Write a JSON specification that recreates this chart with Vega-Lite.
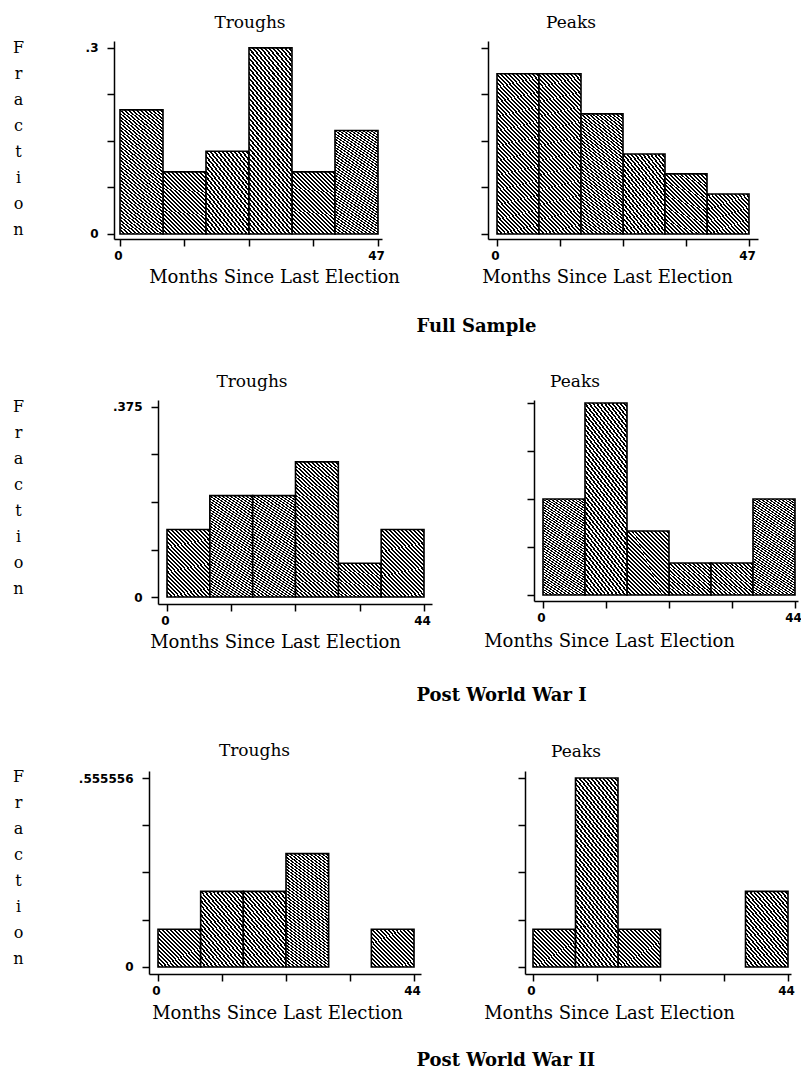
{
"$schema": "https://vega.github.io/schema/vega-lite/v6.json",
"padding": {"left": 12, "top": 14, "right": 0, "bottom": 0},
"background": "white",
"params": [
{"name": "gA", "value": {"gradient": "linear", "x1": 0, "y1": 1, "x2": 0.769, "y2": -0.154, "stops": [
{"offset":0,"color":"#000"},{"offset":0.0185,"color":"#000"},{"offset":0.0185,"color":"#fff"},{"offset":0.037,"color":"#fff"},
{"offset":0.037,"color":"#000"},{"offset":0.0556,"color":"#000"},{"offset":0.0556,"color":"#fff"},{"offset":0.0741,"color":"#fff"},
{"offset":0.0741,"color":"#000"},{"offset":0.0926,"color":"#000"},{"offset":0.0926,"color":"#fff"},{"offset":0.1111,"color":"#fff"},
{"offset":0.1111,"color":"#000"},{"offset":0.1296,"color":"#000"},{"offset":0.1296,"color":"#fff"},{"offset":0.1481,"color":"#fff"},
{"offset":0.1481,"color":"#000"},{"offset":0.1667,"color":"#000"},{"offset":0.1667,"color":"#fff"},{"offset":0.1852,"color":"#fff"},
{"offset":0.1852,"color":"#000"},{"offset":0.2037,"color":"#000"},{"offset":0.2037,"color":"#fff"},{"offset":0.2222,"color":"#fff"},
{"offset":0.2222,"color":"#000"},{"offset":0.2407,"color":"#000"},{"offset":0.2407,"color":"#fff"},{"offset":0.2593,"color":"#fff"},
{"offset":0.2593,"color":"#000"},{"offset":0.2778,"color":"#000"},{"offset":0.2778,"color":"#fff"},{"offset":0.2963,"color":"#fff"},
{"offset":0.2963,"color":"#000"},{"offset":0.3148,"color":"#000"},{"offset":0.3148,"color":"#fff"},{"offset":0.3333,"color":"#fff"},
{"offset":0.3333,"color":"#000"},{"offset":0.3519,"color":"#000"},{"offset":0.3519,"color":"#fff"},{"offset":0.3704,"color":"#fff"},
{"offset":0.3704,"color":"#000"},{"offset":0.3889,"color":"#000"},{"offset":0.3889,"color":"#fff"},{"offset":0.4074,"color":"#fff"},
{"offset":0.4074,"color":"#000"},{"offset":0.4259,"color":"#000"},{"offset":0.4259,"color":"#fff"},{"offset":0.4444,"color":"#fff"},
{"offset":0.4444,"color":"#000"},{"offset":0.463,"color":"#000"},{"offset":0.463,"color":"#fff"},{"offset":0.4815,"color":"#fff"},
{"offset":0.4815,"color":"#000"},{"offset":0.5,"color":"#000"},{"offset":0.5,"color":"#fff"},{"offset":0.5185,"color":"#fff"},
{"offset":0.5185,"color":"#000"},{"offset":0.537,"color":"#000"},{"offset":0.537,"color":"#fff"},{"offset":0.5556,"color":"#fff"},
{"offset":0.5556,"color":"#000"},{"offset":0.5741,"color":"#000"},{"offset":0.5741,"color":"#fff"},{"offset":0.5926,"color":"#fff"},
{"offset":0.5926,"color":"#000"},{"offset":0.6111,"color":"#000"},{"offset":0.6111,"color":"#fff"},{"offset":0.6296,"color":"#fff"},
{"offset":0.6296,"color":"#000"},{"offset":0.6481,"color":"#000"},{"offset":0.6481,"color":"#fff"},{"offset":0.6667,"color":"#fff"},
{"offset":0.6667,"color":"#000"},{"offset":0.6852,"color":"#000"},{"offset":0.6852,"color":"#fff"},{"offset":0.7037,"color":"#fff"},
{"offset":0.7037,"color":"#000"},{"offset":0.7222,"color":"#000"},{"offset":0.7222,"color":"#fff"},{"offset":0.7407,"color":"#fff"},
{"offset":0.7407,"color":"#000"},{"offset":0.7593,"color":"#000"},{"offset":0.7593,"color":"#fff"},{"offset":0.7778,"color":"#fff"},
{"offset":0.7778,"color":"#000"},{"offset":0.7963,"color":"#000"},{"offset":0.7963,"color":"#fff"},{"offset":0.8148,"color":"#fff"},
{"offset":0.8148,"color":"#000"},{"offset":0.8333,"color":"#000"},{"offset":0.8333,"color":"#fff"},{"offset":0.8519,"color":"#fff"},
{"offset":0.8519,"color":"#000"},{"offset":0.8704,"color":"#000"},{"offset":0.8704,"color":"#fff"},{"offset":0.8889,"color":"#fff"},
{"offset":0.8889,"color":"#000"},{"offset":0.9074,"color":"#000"},{"offset":0.9074,"color":"#fff"},{"offset":0.9259,"color":"#fff"},
{"offset":0.9259,"color":"#000"},{"offset":0.9444,"color":"#000"},{"offset":0.9444,"color":"#fff"},{"offset":0.963,"color":"#fff"},
{"offset":0.963,"color":"#000"},{"offset":0.9815,"color":"#000"},{"offset":0.9815,"color":"#fff"},{"offset":1,"color":"#fff"}
]}},
{"name": "gB", "value": {"gradient": "linear", "x1": 0, "y1": 1, "x2": 0.34, "y2": -0.189, "stops": [
{"offset":0,"color":"#000"},{"offset":0.0104,"color":"#000"},{"offset":0.0104,"color":"#fff"},{"offset":0.0208,"color":"#fff"},
{"offset":0.0208,"color":"#000"},{"offset":0.0313,"color":"#000"},{"offset":0.0313,"color":"#fff"},{"offset":0.0417,"color":"#fff"},
{"offset":0.0417,"color":"#000"},{"offset":0.0521,"color":"#000"},{"offset":0.0521,"color":"#fff"},{"offset":0.0625,"color":"#fff"},
{"offset":0.0625,"color":"#000"},{"offset":0.0729,"color":"#000"},{"offset":0.0729,"color":"#fff"},{"offset":0.0833,"color":"#fff"},
{"offset":0.0833,"color":"#000"},{"offset":0.0938,"color":"#000"},{"offset":0.0938,"color":"#fff"},{"offset":0.1042,"color":"#fff"},
{"offset":0.1042,"color":"#000"},{"offset":0.1146,"color":"#000"},{"offset":0.1146,"color":"#fff"},{"offset":0.125,"color":"#fff"},
{"offset":0.125,"color":"#000"},{"offset":0.1354,"color":"#000"},{"offset":0.1354,"color":"#fff"},{"offset":0.1458,"color":"#fff"},
{"offset":0.1458,"color":"#000"},{"offset":0.1563,"color":"#000"},{"offset":0.1563,"color":"#fff"},{"offset":0.1667,"color":"#fff"},
{"offset":0.1667,"color":"#000"},{"offset":0.1771,"color":"#000"},{"offset":0.1771,"color":"#fff"},{"offset":0.1875,"color":"#fff"},
{"offset":0.1875,"color":"#000"},{"offset":0.1979,"color":"#000"},{"offset":0.1979,"color":"#fff"},{"offset":0.2083,"color":"#fff"},
{"offset":0.2083,"color":"#000"},{"offset":0.2188,"color":"#000"},{"offset":0.2188,"color":"#fff"},{"offset":0.2292,"color":"#fff"},
{"offset":0.2292,"color":"#000"},{"offset":0.2396,"color":"#000"},{"offset":0.2396,"color":"#fff"},{"offset":0.25,"color":"#fff"},
{"offset":0.25,"color":"#000"},{"offset":0.2604,"color":"#000"},{"offset":0.2604,"color":"#fff"},{"offset":0.2708,"color":"#fff"},
{"offset":0.2708,"color":"#000"},{"offset":0.2813,"color":"#000"},{"offset":0.2813,"color":"#fff"},{"offset":0.2917,"color":"#fff"},
{"offset":0.2917,"color":"#000"},{"offset":0.3021,"color":"#000"},{"offset":0.3021,"color":"#fff"},{"offset":0.3125,"color":"#fff"},
{"offset":0.3125,"color":"#000"},{"offset":0.3229,"color":"#000"},{"offset":0.3229,"color":"#fff"},{"offset":0.3333,"color":"#fff"},
{"offset":0.3333,"color":"#000"},{"offset":0.3438,"color":"#000"},{"offset":0.3438,"color":"#fff"},{"offset":0.3542,"color":"#fff"},
{"offset":0.3542,"color":"#000"},{"offset":0.3646,"color":"#000"},{"offset":0.3646,"color":"#fff"},{"offset":0.375,"color":"#fff"},
{"offset":0.375,"color":"#000"},{"offset":0.3854,"color":"#000"},{"offset":0.3854,"color":"#fff"},{"offset":0.3958,"color":"#fff"},
{"offset":0.3958,"color":"#000"},{"offset":0.4063,"color":"#000"},{"offset":0.4063,"color":"#fff"},{"offset":0.4167,"color":"#fff"},
{"offset":0.4167,"color":"#000"},{"offset":0.4271,"color":"#000"},{"offset":0.4271,"color":"#fff"},{"offset":0.4375,"color":"#fff"},
{"offset":0.4375,"color":"#000"},{"offset":0.4479,"color":"#000"},{"offset":0.4479,"color":"#fff"},{"offset":0.4583,"color":"#fff"},
{"offset":0.4583,"color":"#000"},{"offset":0.4688,"color":"#000"},{"offset":0.4688,"color":"#fff"},{"offset":0.4792,"color":"#fff"},
{"offset":0.4792,"color":"#000"},{"offset":0.4896,"color":"#000"},{"offset":0.4896,"color":"#fff"},{"offset":0.5,"color":"#fff"},
{"offset":0.5,"color":"#000"},{"offset":0.5104,"color":"#000"},{"offset":0.5104,"color":"#fff"},{"offset":0.5208,"color":"#fff"},
{"offset":0.5208,"color":"#000"},{"offset":0.5313,"color":"#000"},{"offset":0.5313,"color":"#fff"},{"offset":0.5417,"color":"#fff"},
{"offset":0.5417,"color":"#000"},{"offset":0.5521,"color":"#000"},{"offset":0.5521,"color":"#fff"},{"offset":0.5625,"color":"#fff"},
{"offset":0.5625,"color":"#000"},{"offset":0.5729,"color":"#000"},{"offset":0.5729,"color":"#fff"},{"offset":0.5833,"color":"#fff"},
{"offset":0.5833,"color":"#000"},{"offset":0.5938,"color":"#000"},{"offset":0.5938,"color":"#fff"},{"offset":0.6042,"color":"#fff"},
{"offset":0.6042,"color":"#000"},{"offset":0.6146,"color":"#000"},{"offset":0.6146,"color":"#fff"},{"offset":0.625,"color":"#fff"},
{"offset":0.625,"color":"#000"},{"offset":0.6354,"color":"#000"},{"offset":0.6354,"color":"#fff"},{"offset":0.6458,"color":"#fff"},
{"offset":0.6458,"color":"#000"},{"offset":0.6563,"color":"#000"},{"offset":0.6563,"color":"#fff"},{"offset":0.6667,"color":"#fff"},
{"offset":0.6667,"color":"#000"},{"offset":0.6771,"color":"#000"},{"offset":0.6771,"color":"#fff"},{"offset":0.6875,"color":"#fff"},
{"offset":0.6875,"color":"#000"},{"offset":0.6979,"color":"#000"},{"offset":0.6979,"color":"#fff"},{"offset":0.7083,"color":"#fff"},
{"offset":0.7083,"color":"#000"},{"offset":0.7188,"color":"#000"},{"offset":0.7188,"color":"#fff"},{"offset":0.7292,"color":"#fff"},
{"offset":0.7292,"color":"#000"},{"offset":0.7396,"color":"#000"},{"offset":0.7396,"color":"#fff"},{"offset":0.75,"color":"#fff"},
{"offset":0.75,"color":"#000"},{"offset":0.7604,"color":"#000"},{"offset":0.7604,"color":"#fff"},{"offset":0.7708,"color":"#fff"},
{"offset":0.7708,"color":"#000"},{"offset":0.7813,"color":"#000"},{"offset":0.7813,"color":"#fff"},{"offset":0.7917,"color":"#fff"},
{"offset":0.7917,"color":"#000"},{"offset":0.8021,"color":"#000"},{"offset":0.8021,"color":"#fff"},{"offset":0.8125,"color":"#fff"},
{"offset":0.8125,"color":"#000"},{"offset":0.8229,"color":"#000"},{"offset":0.8229,"color":"#fff"},{"offset":0.8333,"color":"#fff"},
{"offset":0.8333,"color":"#000"},{"offset":0.8438,"color":"#000"},{"offset":0.8438,"color":"#fff"},{"offset":0.8542,"color":"#fff"},
{"offset":0.8542,"color":"#000"},{"offset":0.8646,"color":"#000"},{"offset":0.8646,"color":"#fff"},{"offset":0.875,"color":"#fff"},
{"offset":0.875,"color":"#000"},{"offset":0.8854,"color":"#000"},{"offset":0.8854,"color":"#fff"},{"offset":0.8958,"color":"#fff"},
{"offset":0.8958,"color":"#000"},{"offset":0.9063,"color":"#000"},{"offset":0.9063,"color":"#fff"},{"offset":0.9167,"color":"#fff"},
{"offset":0.9167,"color":"#000"},{"offset":0.9271,"color":"#000"},{"offset":0.9271,"color":"#fff"},{"offset":0.9375,"color":"#fff"},
{"offset":0.9375,"color":"#000"},{"offset":0.9479,"color":"#000"},{"offset":0.9479,"color":"#fff"},{"offset":0.9583,"color":"#fff"},
{"offset":0.9583,"color":"#000"},{"offset":0.9688,"color":"#000"},{"offset":0.9688,"color":"#fff"},{"offset":0.9792,"color":"#fff"},
{"offset":0.9792,"color":"#000"},{"offset":0.9896,"color":"#000"},{"offset":0.9896,"color":"#fff"},{"offset":1,"color":"#fff"}
]}},
{"name": "gC", "value": {"gradient": "linear", "x1": 0, "y1": 1, "x2": 1.074, "y2": 0.087, "stops": [
{"offset":0,"color":"#000"},{"offset":0.025,"color":"#000"},{"offset":0.025,"color":"#fff"},{"offset":0.05,"color":"#fff"},
{"offset":0.05,"color":"#000"},{"offset":0.075,"color":"#000"},{"offset":0.075,"color":"#fff"},{"offset":0.1,"color":"#fff"},
{"offset":0.1,"color":"#000"},{"offset":0.125,"color":"#000"},{"offset":0.125,"color":"#fff"},{"offset":0.15,"color":"#fff"},
{"offset":0.15,"color":"#000"},{"offset":0.175,"color":"#000"},{"offset":0.175,"color":"#fff"},{"offset":0.2,"color":"#fff"},
{"offset":0.2,"color":"#000"},{"offset":0.225,"color":"#000"},{"offset":0.225,"color":"#fff"},{"offset":0.25,"color":"#fff"},
{"offset":0.25,"color":"#000"},{"offset":0.275,"color":"#000"},{"offset":0.275,"color":"#fff"},{"offset":0.3,"color":"#fff"},
{"offset":0.3,"color":"#000"},{"offset":0.325,"color":"#000"},{"offset":0.325,"color":"#fff"},{"offset":0.35,"color":"#fff"},
{"offset":0.35,"color":"#000"},{"offset":0.375,"color":"#000"},{"offset":0.375,"color":"#fff"},{"offset":0.4,"color":"#fff"},
{"offset":0.4,"color":"#000"},{"offset":0.425,"color":"#000"},{"offset":0.425,"color":"#fff"},{"offset":0.45,"color":"#fff"},
{"offset":0.45,"color":"#000"},{"offset":0.475,"color":"#000"},{"offset":0.475,"color":"#fff"},{"offset":0.5,"color":"#fff"},
{"offset":0.5,"color":"#000"},{"offset":0.525,"color":"#000"},{"offset":0.525,"color":"#fff"},{"offset":0.55,"color":"#fff"},
{"offset":0.55,"color":"#000"},{"offset":0.575,"color":"#000"},{"offset":0.575,"color":"#fff"},{"offset":0.6,"color":"#fff"},
{"offset":0.6,"color":"#000"},{"offset":0.625,"color":"#000"},{"offset":0.625,"color":"#fff"},{"offset":0.65,"color":"#fff"},
{"offset":0.65,"color":"#000"},{"offset":0.675,"color":"#000"},{"offset":0.675,"color":"#fff"},{"offset":0.7,"color":"#fff"},
{"offset":0.7,"color":"#000"},{"offset":0.725,"color":"#000"},{"offset":0.725,"color":"#fff"},{"offset":0.75,"color":"#fff"},
{"offset":0.75,"color":"#000"},{"offset":0.775,"color":"#000"},{"offset":0.775,"color":"#fff"},{"offset":0.8,"color":"#fff"},
{"offset":0.8,"color":"#000"},{"offset":0.825,"color":"#000"},{"offset":0.825,"color":"#fff"},{"offset":0.85,"color":"#fff"},
{"offset":0.85,"color":"#000"},{"offset":0.875,"color":"#000"},{"offset":0.875,"color":"#fff"},{"offset":0.9,"color":"#fff"},
{"offset":0.9,"color":"#000"},{"offset":0.925,"color":"#000"},{"offset":0.925,"color":"#fff"},{"offset":0.95,"color":"#fff"},
{"offset":0.95,"color":"#000"},{"offset":0.975,"color":"#000"},{"offset":0.975,"color":"#fff"},{"offset":1,"color":"#fff"}
]}}
],
"config": {
"view": {"stroke": null},
"font": "DejaVu Serif",
"axis": {"grid": false, "domainColor": "#000", "domainWidth": 1.5, "tickColor": "#000", "tickWidth": 1.5, "tickSize": 7, "labelFont": "DejaVu Sans", "labelFontWeight": "bold", "labelFontSize": 12, "labelColor": "#000", "titleFont": "DejaVu Serif", "titleFontWeight": "normal", "titleFontSize": 18, "titleColor": "#000"},
"axisX": {"labelPadding": 4, "labelOffset": -2},
"axisY": {"labelPadding": 9},
"title": {"font": "DejaVu Serif", "fontSize": 17, "fontWeight": "normal", "color": "#000"},
"bar": {"stroke": "#000", "strokeWidth": 1.6}
},
"datasets": {"hist": [
{"sample": "Full Sample", "panel": "Troughs", "start": 0, "end": 7.8333, "fraction": 0.2},
{"sample": "Full Sample", "panel": "Troughs", "start": 7.8333, "end": 15.6667, "fraction": 0.1},
{"sample": "Full Sample", "panel": "Troughs", "start": 15.6667, "end": 23.5, "fraction": 0.1333},
{"sample": "Full Sample", "panel": "Troughs", "start": 23.5, "end": 31.3333, "fraction": 0.3},
{"sample": "Full Sample", "panel": "Troughs", "start": 31.3333, "end": 39.1667, "fraction": 0.1},
{"sample": "Full Sample", "panel": "Troughs", "start": 39.1667, "end": 47, "fraction": 0.1667},
{"sample": "Full Sample", "panel": "Peaks", "start": 0, "end": 7.8333, "fraction": 0.2581},
{"sample": "Full Sample", "panel": "Peaks", "start": 7.8333, "end": 15.6667, "fraction": 0.2581},
{"sample": "Full Sample", "panel": "Peaks", "start": 15.6667, "end": 23.5, "fraction": 0.1935},
{"sample": "Full Sample", "panel": "Peaks", "start": 23.5, "end": 31.3333, "fraction": 0.129},
{"sample": "Full Sample", "panel": "Peaks", "start": 31.3333, "end": 39.1667, "fraction": 0.0968},
{"sample": "Full Sample", "panel": "Peaks", "start": 39.1667, "end": 47, "fraction": 0.0645},
{"sample": "Post World War I", "panel": "Troughs", "start": 0, "end": 7.3333, "fraction": 0.1333},
{"sample": "Post World War I", "panel": "Troughs", "start": 7.3333, "end": 14.6667, "fraction": 0.2},
{"sample": "Post World War I", "panel": "Troughs", "start": 14.6667, "end": 22, "fraction": 0.2},
{"sample": "Post World War I", "panel": "Troughs", "start": 22, "end": 29.3333, "fraction": 0.2667},
{"sample": "Post World War I", "panel": "Troughs", "start": 29.3333, "end": 36.6667, "fraction": 0.0667},
{"sample": "Post World War I", "panel": "Troughs", "start": 36.6667, "end": 44, "fraction": 0.1333},
{"sample": "Post World War I", "panel": "Peaks", "start": 0, "end": 7.3333, "fraction": 0.1875},
{"sample": "Post World War I", "panel": "Peaks", "start": 7.3333, "end": 14.6667, "fraction": 0.375},
{"sample": "Post World War I", "panel": "Peaks", "start": 14.6667, "end": 22, "fraction": 0.125},
{"sample": "Post World War I", "panel": "Peaks", "start": 22, "end": 29.3333, "fraction": 0.0625},
{"sample": "Post World War I", "panel": "Peaks", "start": 29.3333, "end": 36.6667, "fraction": 0.0625},
{"sample": "Post World War I", "panel": "Peaks", "start": 36.6667, "end": 44, "fraction": 0.1875},
{"sample": "Post World War II", "panel": "Troughs", "start": 0, "end": 7.3333, "fraction": 0.1111},
{"sample": "Post World War II", "panel": "Troughs", "start": 7.3333, "end": 14.6667, "fraction": 0.2222},
{"sample": "Post World War II", "panel": "Troughs", "start": 14.6667, "end": 22, "fraction": 0.2222},
{"sample": "Post World War II", "panel": "Troughs", "start": 22, "end": 29.3333, "fraction": 0.3333},
{"sample": "Post World War II", "panel": "Troughs", "start": 36.6667, "end": 44, "fraction": 0.1111},
{"sample": "Post World War II", "panel": "Peaks", "start": 0, "end": 7.3333, "fraction": 0.1111},
{"sample": "Post World War II", "panel": "Peaks", "start": 7.3333, "end": 14.6667, "fraction": 0.5556},
{"sample": "Post World War II", "panel": "Peaks", "start": 14.6667, "end": 22, "fraction": 0.1111},
{"sample": "Post World War II", "panel": "Peaks", "start": 36.6667, "end": 44, "fraction": 0.2222}
]},
"data": {"name": "hist"},
"columns": 1,
"align": "none",
"spacing": 37,
"concat": [
{
"hconcat": [
{
"width": 268, "height": 198,
"title": {"text": "Troughs", "frame": "group", "anchor": "middle", "dx": 2, "offset": -6, "baseline": "alphabetic"},
"transform": [{"filter": "datum.sample == 'Full Sample' && datum.panel == 'Troughs'"}],
"encoding": {
"x": {"field": "start", "type": "quantitative", "scale": {"domain": [-1.093, 47.729], "nice": false, "zero": false},
 "axis": {"values": [0, 11.75, 23.5, 35.25, 47], "labelExpr": "datum.value == 0 ? '0' : datum.value > 46 ? '47' : ''", "labelFlush": false, "labelOverlap": false, "title": "Months Since Last Election", "titleX": 160, "titleY": 43, "titleAlign": "center", "titleBaseline": "alphabetic"}},
"x2": {"field": "end"},
"y": {"field": "fraction", "type": "quantitative", "scale": {"domain": [-0.0081, 0.311], "nice": false, "zero": false},
 "axis": {"values": [0, 0.075, 0.15, 0.225, 0.3], "labelExpr": "datum.value == 0 ? '0' : datum.value > 0.29 ? '.3' : ''", "labelFlush": false, "labelOverlap": false, "title": ["F","r","a","c","t","i","o","n"], "titleAngle": 0, "titleAlign": "center", "titleBaseline": "top", "titleFontSize": 16, "titleLineHeight": 26, "titleX": -96, "titleY": -2}},
"y2": {"datum": 0}
},
"layer": [
{"transform": [{"filter": "datum.fraction <= 0.0758"}], "mark": {"type": "bar", "fill": {"expr": "gC"}}},
{"transform": [{"filter": "datum.fraction > 0.0758 && datum.fraction <= 0.153"}], "mark": {"type": "bar", "fill": {"expr": "gA"}}},
{"transform": [{"filter": "datum.fraction > 0.153"}], "mark": {"type": "bar", "fill": {"expr": "gB"}}}
]
},
{
"width": 270, "height": 198,
"title": {"text": "Peaks", "frame": "group", "anchor": "middle", "dx": -52, "offset": -4, "baseline": "alphabetic"},
"transform": [{"filter": "datum.sample == 'Full Sample' && datum.panel == 'Peaks'"}],
"encoding": {
"x": {"field": "start", "type": "quantitative", "scale": {"domain": [-1.678, 48.678], "nice": false, "zero": false},
 "axis": {"values": [0, 11.75, 23.5, 35.25, 47], "labelExpr": "datum.value == 0 ? '0' : datum.value > 46 ? '47' : ''", "labelFlush": false, "labelOverlap": false, "title": "Months Since Last Election", "titleX": 119, "titleY": 43, "titleAlign": "center", "titleBaseline": "alphabetic"}},
"x2": {"field": "end"},
"y": {"field": "fraction", "type": "quantitative", "scale": {"domain": [-0.0081, 0.311], "nice": false, "zero": false},
 "axis": {"values": [0, 0.075, 0.15, 0.225, 0.3], "labels": false, "title": null}},
"y2": {"datum": 0}
},
"layer": [
{"transform": [{"filter": "datum.fraction <= 0.0758"}], "mark": {"type": "bar", "fill": {"expr": "gC"}}},
{"transform": [{"filter": "datum.fraction > 0.0758 && datum.fraction <= 0.153"}], "mark": {"type": "bar", "fill": {"expr": "gA"}}},
{"transform": [{"filter": "datum.fraction > 0.153"}], "mark": {"type": "bar", "fill": {"expr": "gB"}}}
]
}
],
"spacing": 106,
"bounds": "flush",
"title": {"text": "Full Sample", "orient": "bottom", "anchor": "start", "frame": "bounds", "dx": 404, "offset": 46, "baseline": "alphabetic", "fontWeight": "bold", "fontSize": 18}
},
{
"hconcat": [
{
"width": 318, "height": 204,
"title": {"text": "Troughs", "frame": "group", "anchor": "middle", "dx": -21, "offset": -6, "baseline": "alphabetic"},
"transform": [{"filter": "datum.sample == 'Post World War I' && datum.panel == 'Troughs'"}],
"encoding": {
"x": {"field": "start", "type": "quantitative", "scale": {"domain": [-1.541, 45.37], "range": [44, 318], "nice": false, "zero": false},
 "axis": {"values": [0, 11, 22, 33, 44], "labelExpr": "datum.value == 0 ? '0' : datum.value > 43 ? '44' : ''", "labelFlush": false, "labelOverlap": false, "title": "Months Since Last Election", "titleX": 161, "titleY": 43, "titleAlign": "center", "titleBaseline": "alphabetic"}},
"x2": {"field": "end"},
"y": {"field": "fraction", "type": "quantitative", "scale": {"domain": [-0.0138, 0.3888], "nice": false, "zero": false},
 "axis": {"offset": -44, "values": [0, 0.09375, 0.1875, 0.28125, 0.375], "labelExpr": "datum.value == 0 ? '0' : datum.value > 0.37 ? '.375' : ''", "labelFlush": false, "labelOverlap": false, "title": ["F","r","a","c","t","i","o","n"], "titleAngle": 0, "titleAlign": "center", "titleBaseline": "top", "titleFontSize": 16, "titleLineHeight": 26, "titleX": -140, "titleY": -2}},
"y2": {"datum": 0}
},
"layer": [
{"transform": [{"filter": "datum.fraction <= 0.093"}], "mark": {"type": "bar", "fill": {"expr": "gC"}}},
{"transform": [{"filter": "datum.fraction > 0.093 && datum.fraction <= 0.187"}], "mark": {"type": "bar", "fill": {"expr": "gA"}}},
{"transform": [{"filter": "datum.fraction > 0.187"}], "mark": {"type": "bar", "fill": {"expr": "gB"}}}
]
},
{
"width": 264, "height": 201,
"title": {"text": "Peaks", "frame": "group", "anchor": "middle", "dx": -91, "offset": -4, "baseline": "alphabetic"},
"transform": [{"filter": "datum.sample == 'Post World War I' && datum.panel == 'Peaks'"}],
"encoding": {
"x": {"field": "start", "type": "quantitative", "scale": {"domain": [-1.571, 44.524], "nice": false, "zero": false},
 "axis": {"values": [0, 11, 22, 33, 44], "labelExpr": "datum.value == 0 ? '0' : datum.value > 43 ? '44' : ''", "labelFlush": false, "labelOverlap": false, "title": "Months Since Last Election", "titleX": 75, "titleY": 45, "titleAlign": "center", "titleBaseline": "alphabetic"}},
"x2": {"field": "end"},
"y": {"field": "fraction", "type": "quantitative", "scale": {"domain": [-0.0117, 0.3809], "nice": false, "zero": false},
 "axis": {"values": [0, 0.09375, 0.1875, 0.28125, 0.375], "labels": false, "title": null}},
"y2": {"datum": 0}
},
"layer": [
{"transform": [{"filter": "datum.fraction <= 0.092"}], "mark": {"type": "bar", "fill": {"expr": "gC"}}},
{"transform": [{"filter": "datum.fraction > 0.092 && datum.fraction <= 0.18"}], "mark": {"type": "bar", "fill": {"expr": "gA"}}},
{"transform": [{"filter": "datum.fraction > 0.18"}], "mark": {"type": "bar", "fill": {"expr": "gB"}}}
]
}
],
"spacing": 102,
"bounds": "flush",
"title": {"text": "Post World War I", "orient": "bottom", "anchor": "start", "frame": "bounds", "dx": 404, "offset": 50, "baseline": "alphabetic", "fontWeight": "bold", "fontSize": 18}
},
{
"hconcat": [
{
"width": 307, "height": 203,
"title": {"text": "Troughs", "frame": "group", "anchor": "middle", "dx": -13, "offset": -5, "baseline": "alphabetic"},
"transform": [{"filter": "datum.sample == 'Post World War II' && datum.panel == 'Troughs'"}],
"encoding": {
"x": {"field": "start", "type": "quantitative", "scale": {"domain": [-1.547, 45.2], "range": [35, 307], "nice": false, "zero": false},
 "axis": {"values": [0, 11, 22, 33, 44], "labelExpr": "datum.value == 0 ? '0' : datum.value > 43 ? '44' : ''", "labelFlush": false, "labelOverlap": false, "title": "Months Since Last Election", "titleX": 163, "titleY": 44, "titleAlign": "center", "titleBaseline": "alphabetic"}},
"x2": {"field": "end"},
"y": {"field": "fraction", "type": "quantitative", "scale": {"domain": [-0.0207, 0.5762], "nice": false, "zero": false},
 "axis": {"offset": -35, "values": [0, 0.138889, 0.277778, 0.416667, 0.555556], "labelExpr": "datum.value == 0 ? '0' : datum.value > 0.55 ? '.555556' : ''", "labelFlush": false, "labelOverlap": false, "title": ["F","r","a","c","t","i","o","n"], "titleAngle": 0, "titleAlign": "center", "titleBaseline": "top", "titleFontSize": 16, "titleLineHeight": 26, "titleX": -131, "titleY": -3}},
"y2": {"datum": 0}
},
"layer": [
{"transform": [{"filter": "datum.fraction <= 0.139"}], "mark": {"type": "bar", "fill": {"expr": "gC"}}},
{"transform": [{"filter": "datum.fraction > 0.139 && datum.fraction <= 0.28"}], "mark": {"type": "bar", "fill": {"expr": "gA"}}},
{"transform": [{"filter": "datum.fraction > 0.28"}], "mark": {"type": "bar", "fill": {"expr": "gB"}}}
]
},
{
"width": 266, "height": 203,
"title": {"text": "Peaks", "frame": "group", "anchor": "middle", "dx": -82, "offset": -3, "baseline": "alphabetic"},
"transform": [{"filter": "datum.sample == 'Post World War II' && datum.panel == 'Peaks'"}],
"encoding": {
"x": {"field": "start", "type": "quantitative", "scale": {"domain": [-1.38, 44.518], "nice": false, "zero": false},
 "axis": {"values": [0, 11, 22, 33, 44], "labelExpr": "datum.value == 0 ? '0' : datum.value > 43 ? '44' : ''", "labelFlush": false, "labelOverlap": false, "title": "Months Since Last Election", "titleX": 84, "titleY": 44, "titleAlign": "center", "titleBaseline": "alphabetic"}},
"x2": {"field": "end"},
"y": {"field": "fraction", "type": "quantitative", "scale": {"domain": [-0.0207, 0.5762], "nice": false, "zero": false},
 "axis": {"values": [0, 0.138889, 0.277778, 0.416667, 0.555556], "labels": false, "title": null}},
"y2": {"datum": 0}
},
"layer": [
{"transform": [{"filter": "datum.fraction <= 0.139"}], "mark": {"type": "bar", "fill": {"expr": "gC"}}},
{"transform": [{"filter": "datum.fraction > 0.139 && datum.fraction <= 0.28"}], "mark": {"type": "bar", "fill": {"expr": "gA"}}},
{"transform": [{"filter": "datum.fraction > 0.28"}], "mark": {"type": "bar", "fill": {"expr": "gB"}}}
]
}
],
"spacing": 104,
"bounds": "flush",
"title": {"text": "Post World War II", "orient": "bottom", "anchor": "start", "frame": "bounds", "dx": 404, "offset": 44, "baseline": "alphabetic", "fontWeight": "bold", "fontSize": 18}
}
]
}
